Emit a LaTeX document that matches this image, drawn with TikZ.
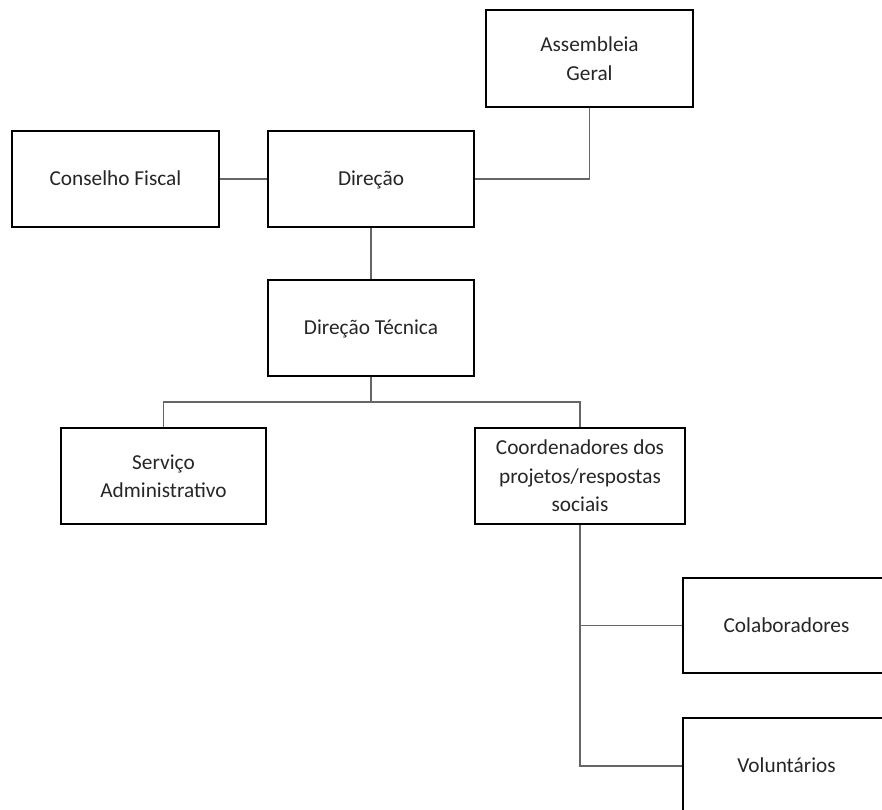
\documentclass[tikz,border=0pt]{standalone}
\usepackage{fontspec}
\setmainfont{Carlito}
\begin{document}
\begin{tikzpicture}[x=1pt, y=-1pt,
    box/.style={draw=black, line width=1.4pt, fill=white, inner sep=0pt, align=center,
      text=black!85, font=\fontsize{21.3}{28.5}\selectfont},
    oneline/.style={box, text height=13.6pt, text depth=0pt},
    boxthick/.style={box, line width=2.8pt},
    link/.style={draw=black!60, line width=1.8pt}]
  \useasboundingbox (0,0) rectangle (882,809);
  % top level
  \node[boxthick, minimum width=207, minimum height=97] (asm) at (589.5,58.5) {Assembleia\\Geral};
  \node[oneline, minimum width=207, minimum height=96] (fisc) at (115.5,179) {Conselho Fiscal};
  \node[oneline, minimum width=206, minimum height=96] (dir) at (371,179) {Direção};
  \node[oneline, minimum width=206, minimum height=96] (dtec) at (371,328) {Direção Técnica};
  % second level
  \node[box, minimum width=205, minimum height=96] (serv) at (163.5,476) {Serviço\\Administrativo};
  \node[boxthick, minimum width=210, minimum height=96] (coord) at (580,476) {Coordenadores dos\\projetos/respostas\\sociais};
  \node[oneline, minimum width=207, minimum height=95] (colab) at (786.5,625.5) {Colaboradores};
  \node[oneline, minimum width=207, minimum height=96] (volu) at (786.5,766) {Voluntários};
  \coordinate (bus) at (371,402);
  % connectors
  \draw[link] (asm.south) |- (dir.east);
  \draw[link] (fisc.east) -- (dir.west);
  \draw[link] (dir.south) -- (dtec.north);
  \draw[link] (dtec.south) -- (bus);
  \draw[link] (bus) -| (serv.north);
  \draw[link] (bus) -| (coord.north);
  \draw[link] (coord.south) |- (colab.west);
  \draw[link] (coord.south) |- (volu.west);
\end{tikzpicture}
\end{document}
